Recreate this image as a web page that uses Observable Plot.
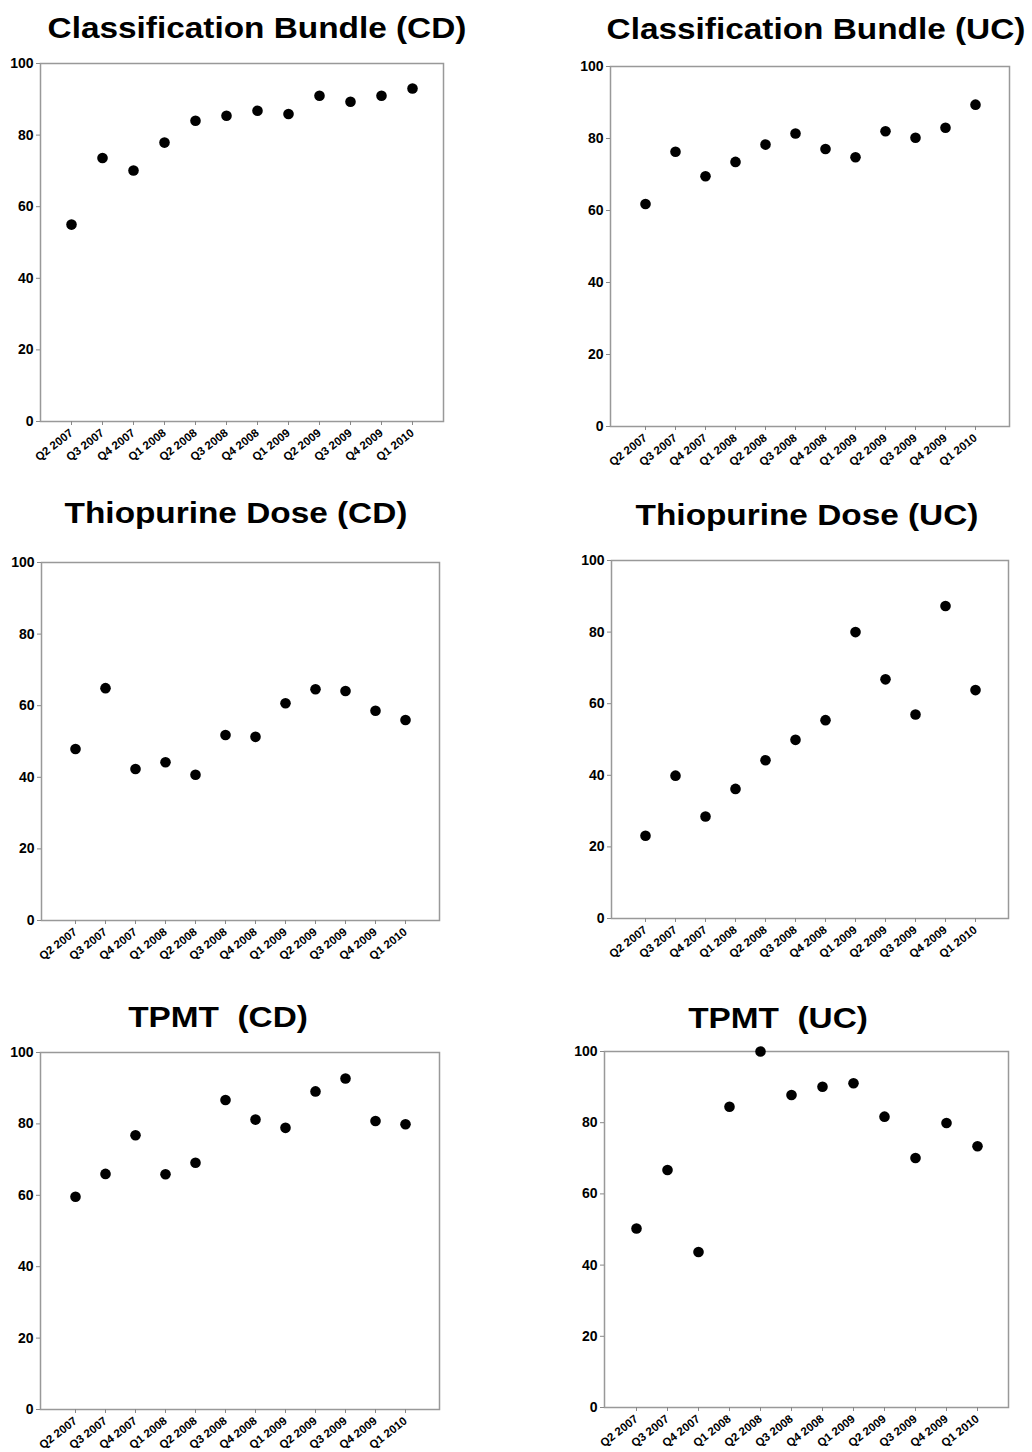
<!DOCTYPE html>
<html><head><meta charset="utf-8">
<script src="https://cdn.jsdelivr.net/npm/d3@7"></script>
<script src="https://cdn.jsdelivr.net/npm/@observablehq/plot@0.6"></script>
<style>
body{margin:0;background:#fff;}
#root{position:relative;width:1032px;height:1452px;overflow:hidden;font-family:"Liberation Sans",Arial,sans-serif;background:#fff;}
.title{position:absolute;font-weight:bold;font-size:29px;line-height:29px;white-space:pre;transform:translateX(-50%) scaleX(1.15);color:#000;}
</style></head><body><div id="root"></div>
<script>
const quarters = ["Q2 2007","Q3 2007","Q4 2007","Q1 2008","Q2 2008","Q3 2008","Q4 2008","Q1 2009","Q2 2009","Q3 2009","Q4 2009","Q1 2010"];
const bundleCD = [55, 73.6, 70.1, 77.9, 84, 85.4, 86.8, 85.9, 91, 89.3, 91, 93];
const bundleUC = [61.8, 76.3, 69.5, 73.5, 78.3, 81.4, 77.1, 74.8, 82, 80.2, 83, 89.4];
const thioCD = [47.9, 64.9, 42.3, 44.2, 40.7, 51.8, 51.3, 60.7, 64.6, 64.1, 58.6, 56];
const thioUC = [23.1, 39.9, 28.5, 36.2, 44.2, 49.9, 55.4, 80, 66.8, 57, 87.3, 63.8];
const tpmtCD = [59.6, 66, 76.8, 65.9, 69.1, 86.7, 81.2, 78.9, 89.1, 92.7, 80.8, 79.9];
const tpmtUC = [50.3, 66.7, 43.7, 84.5, 100, 87.8, 90.1, 91.1, 81.7, 70.1, 79.9, 73.4];
const titles = ["Classification Bundle (CD)", "Classification Bundle (UC)", "Thiopurine Dose (CD)", "Thiopurine Dose (UC)", "TPMT  (CD)", "TPMT  (UC)"];
const yTicks = [0, 20, 40, 60, 80, 100];

const series = [bundleCD, bundleUC, thioCD, thioUC, tpmtCD, tpmtUC];
// panel frame placement (left, right, top, bottom) and title centre / baseline
const layout = [
  {fl: 40, fr: 443, ft: 63, fb: 421, tx: 257, tb: 38},
  {fl: 610, fr: 1009, ft: 66, fb: 426, tx: 816, tb: 39},
  {fl: 41, fr: 439, ft: 562, fb: 920, tx: 236, tb: 523},
  {fl: 611, fr: 1008, ft: 560, fb: 918, tx: 807, tb: 525},
  {fl: 40, fr: 439, ft: 1052, fb: 1409, tx: 218, tb: 1027},
  {fl: 604, fr: 1008, ft: 1051, fb: 1407, tx: 778, tb: 1028}
];
const root = document.getElementById("root");
const font = '"Liberation Sans", Arial, sans-serif';

series.forEach((vals, i) => {
  const L = layout[i];
  const mL = 42, mT = 12, mR = 12, mB = 46;
  const w = L.fr - L.fl + mL + mR;
  const h = L.fb - L.ft + mT + mB;
  const data = quarters.map((q, j) => ({q, v: vals[j]}));
  const svg = Plot.plot({
    width: w, height: h,
    marginLeft: mL, marginTop: mT, marginRight: mR, marginBottom: mB,
    style: {fontFamily: font, background: "transparent", overflow: "visible", color: "#000"},
    x: {type: "point", domain: quarters, padding: 1},
    y: {domain: [0, 100]},
    marks: [
      Plot.frame({stroke: "#999", strokeWidth: 1.5}),
      Plot.axisY({ticks: yTicks, tickSize: 4, tickPadding: 3, fontSize: 14, fontWeight: "bold", label: null, stroke: "#888"}),
      Plot.axisX({tickSize: 4, tickRotate: -38, fontSize: 11.5, fontWeight: "bold", label: null, tickPadding: 6, stroke: "#888"}),
      Plot.dot(data, {x: "q", y: "v", r: 5.3, fill: "#000", stroke: "none"})
    ]
  });
  svg.style.position = "absolute";
  svg.style.left = (L.fl - mL) + "px";
  svg.style.top = (L.ft - mT) + "px";
  root.appendChild(svg);

  const t = document.createElement("div");
  t.className = "title";
  t.textContent = titles[i];
  t.style.left = L.tx + "px";
  t.style.top = (L.tb - 24.5) + "px";
  root.appendChild(t);
});
</script></body></html>
